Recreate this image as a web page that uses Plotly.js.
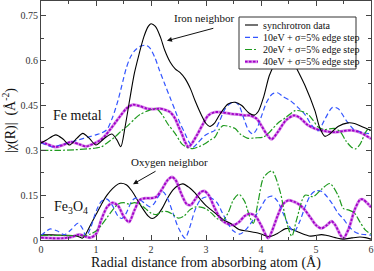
<!DOCTYPE html>
<html><head><meta charset="utf-8">
<script src="https://cdn.plot.ly/plotly-3.0.1.min.js"></script>
<style>html,body{margin:0;padding:0;background:#fff}</style>
</head><body><div id="c" style="width:374px;height:271px"></div>
<script>
// ---------- data ----------
const seriesNames = ["synchrotron data", "10eV + σ=5% edge step", "20eV + σ=5% edge step", "40eV + σ=5% edge step"];
const xTicks = [0,1,2,3,4,5,6];
const yTicks = [0,0.15,0.3,0.45,0.6,0.75];
const yTickText = ["0","0.15","0.3","0.45","0.6","0.75"];

// Fe metal
const feSynR = [0,0.1,0.27,0.4,0.52,0.65,0.76,0.88,1.0,1.15,1.29,1.38,1.45,1.53,1.61,1.7,1.78,1.87,1.95,2.0,2.08,2.17,2.25,2.35,2.44,2.53,2.62,2.72,2.8,2.92,3.0,3.07,3.15,3.25,3.4,3.53,3.65,3.78,3.88,3.95,4.05,4.15,4.25,4.35,4.45,4.55,4.62,4.8,4.98,5.07,5.16,5.25,5.4,5.58,5.7,5.85,6.0];
const feSyn  = [0.325,0.335,0.352,0.338,0.318,0.34,0.357,0.34,0.318,0.34,0.355,0.335,0.312,0.38,0.467,0.56,0.62,0.68,0.715,0.724,0.715,0.68,0.635,0.595,0.573,0.56,0.54,0.505,0.467,0.417,0.39,0.38,0.39,0.42,0.455,0.461,0.45,0.425,0.418,0.43,0.48,0.55,0.59,0.62,0.63,0.615,0.585,0.517,0.433,0.375,0.347,0.355,0.38,0.392,0.39,0.378,0.367];

const fe10R = [0,0.1,0.22,0.35,0.55,0.7,0.85,1.0,1.1,1.2,1.3,1.4,1.5,1.55,1.62,1.7,1.8,1.9,1.97,2.07,2.15,2.25,2.35,2.44,2.53,2.62,2.7,2.77,2.85,2.98,3.08,3.16,3.25,3.35,3.45,3.53,3.6,3.7,3.78,3.85,3.92,4.0,4.1,4.2,4.3,4.4,4.53,4.67,4.8,4.9,5.0,5.05,5.15,5.3,5.4,5.55,5.7,5.85,6.0];
const fe10  = [0.325,0.318,0.311,0.318,0.328,0.336,0.344,0.352,0.358,0.37,0.41,0.467,0.54,0.575,0.61,0.633,0.648,0.652,0.645,0.611,0.57,0.522,0.475,0.433,0.39,0.356,0.325,0.311,0.325,0.35,0.36,0.367,0.4,0.44,0.458,0.461,0.45,0.4,0.365,0.355,0.37,0.41,0.46,0.488,0.493,0.48,0.467,0.444,0.42,0.39,0.368,0.366,0.4,0.444,0.44,0.4,0.368,0.36,0.355];

const fe20R = [0,0.3,0.6,0.85,1.0,1.1,1.2,1.34,1.46,1.58,1.7,1.8,1.95,2.1,2.2,2.3,2.44,2.56,2.65,2.76,2.88,2.98,3.08,3.16,3.24,3.31,3.42,3.53,3.62,3.75,3.9,4.05,4.15,4.3,4.45,4.62,4.75,4.86,4.95,5.04,5.15,5.25,5.35,5.45,5.55,5.65,5.72,5.8,5.9,5.95,6.0];
const fe20  = [0.3,0.3,0.302,0.305,0.308,0.312,0.325,0.344,0.365,0.383,0.405,0.42,0.433,0.439,0.42,0.39,0.356,0.322,0.31,0.306,0.313,0.322,0.335,0.344,0.37,0.383,0.38,0.373,0.355,0.341,0.342,0.345,0.36,0.39,0.41,0.433,0.43,0.42,0.4,0.378,0.37,0.372,0.373,0.36,0.33,0.31,0.305,0.32,0.36,0.372,0.36];

const fe40R = [0,0.1,0.27,0.4,0.55,0.7,0.82,0.95,1.07,1.17,1.27,1.36,1.45,1.55,1.67,1.8,1.92,2.05,2.16,2.25,2.35,2.44,2.5,2.56,2.62,2.68,2.75,2.85,2.95,3.04,3.16,3.3,3.47,3.6,3.71,3.8,3.92,4.0,4.1,4.19,4.3,4.45,4.6,4.7,4.85,4.98,5.15,5.35,5.5,5.65,5.8,6.0];
const fe40  = [0.328,0.322,0.311,0.318,0.328,0.32,0.313,0.322,0.333,0.35,0.373,0.395,0.417,0.44,0.453,0.448,0.44,0.438,0.44,0.436,0.428,0.406,0.38,0.356,0.328,0.311,0.325,0.356,0.39,0.417,0.428,0.427,0.422,0.42,0.417,0.417,0.406,0.385,0.355,0.337,0.36,0.4,0.417,0.41,0.385,0.373,0.365,0.361,0.365,0.367,0.36,0.339];

// Fe3O4
const oxSynR = [0,0.2,0.4,0.6,0.7,0.75,0.8,0.9,1.0,1.1,1.2,1.3,1.4,1.45,1.55,1.65,1.75,1.85,1.95,2.02,2.1,2.2,2.3,2.4,2.5,2.58,2.7,2.8,2.9,3.0,3.1,3.2,3.3,3.45,3.6,3.75,3.9,4.0,4.15,4.3,4.45,4.55,4.7,4.9,5.1,5.2,5.35,5.5,5.65,5.8,5.9,6.0];
const oxSyn  = [0.017,0.017,0.016,0.015,0.01,0.006,0.015,0.05,0.085,0.12,0.15,0.172,0.187,0.19,0.185,0.165,0.135,0.105,0.08,0.072,0.08,0.105,0.14,0.168,0.183,0.188,0.175,0.158,0.135,0.115,0.1,0.085,0.07,0.055,0.035,0.03,0.025,0.02,0.011,0.022,0.038,0.037,0.025,0.013,0.018,0.015,0.008,0.003,0.007,0.01,0.008,0.003];

const ox10R = [0,0.1,0.17,0.3,0.42,0.55,0.67,0.75,0.82,0.9,1.0,1.1,1.2,1.3,1.4,1.47,1.55,1.65,1.72,1.8,1.9,1.98,2.05,2.15,2.22,2.3,2.4,2.5,2.62,2.7,2.8,2.9,3.0,3.1,3.2,3.3,3.4,3.5,3.62,3.75,3.9,4.0,4.1,4.2,4.3,4.4,4.5,4.6,4.7,4.8,4.9,5.0,5.1,5.2,5.3,5.4,5.5,5.6,5.7,5.8,5.9,6.0];
const ox10  = [0.015,0.03,0.037,0.03,0.018,0.035,0.056,0.04,0.012,0.04,0.095,0.13,0.137,0.115,0.08,0.072,0.09,0.13,0.14,0.135,0.12,0.111,0.12,0.15,0.161,0.14,0.09,0.04,0.006,0.04,0.1,0.135,0.144,0.14,0.125,0.09,0.055,0.03,0.02,0.04,0.08,0.11,0.14,0.147,0.13,0.09,0.05,0.028,0.06,0.11,0.15,0.165,0.163,0.145,0.12,0.09,0.07,0.045,0.028,0.02,0.018,0.016];

const ox20R = [0,0.4,0.8,0.9,1.0,1.1,1.2,1.3,1.4,1.5,1.6,1.7,1.8,1.9,2.0,2.1,2.2,2.3,2.4,2.5,2.6,2.7,2.8,2.9,3.0,3.1,3.2,3.3,3.4,3.5,3.6,3.7,3.8,3.86,3.95,4.05,4.2,4.35,4.45,4.56,4.65,4.8,4.95,5.1,5.25,5.4,5.5,5.6,5.7,5.8,5.9,6.0];
const ox20  = [0.015,0.015,0.015,0.02,0.03,0.05,0.075,0.1,0.12,0.125,0.12,0.125,0.12,0.105,0.09,0.085,0.095,0.095,0.085,0.073,0.08,0.1,0.11,0.11,0.104,0.09,0.072,0.065,0.09,0.135,0.153,0.13,0.075,0.056,0.13,0.21,0.231,0.16,0.07,0.013,0.07,0.15,0.145,0.17,0.189,0.15,0.105,0.1,0.09,0.06,0.033,0.02];

const ox40R = [0,0.2,0.4,0.55,0.7,0.8,0.9,1.0,1.1,1.2,1.3,1.4,1.5,1.6,1.7,1.8,1.9,2.0,2.1,2.2,2.3,2.38,2.45,2.55,2.65,2.72,2.8,2.9,2.97,3.05,3.15,3.25,3.35,3.5,3.6,3.7,3.8,3.9,4.0,4.13,4.2,4.3,4.4,4.5,4.6,4.7,4.8,4.9,5.0,5.1,5.2,5.28,5.35,5.45,5.5,5.6,5.7,5.8,5.85,5.95,6.0];
const ox40  = [0.008,0.006,0.006,0.01,0.018,0.012,0.008,0.02,0.07,0.11,0.125,0.115,0.08,0.06,0.1,0.135,0.14,0.14,0.145,0.17,0.2,0.211,0.2,0.155,0.12,0.117,0.135,0.16,0.164,0.15,0.11,0.075,0.058,0.05,0.06,0.08,0.088,0.08,0.05,0.006,0.03,0.08,0.12,0.133,0.128,0.118,0.1,0.075,0.05,0.039,0.05,0.063,0.05,0.015,0.006,0.04,0.1,0.135,0.136,0.12,0.11];

// ---------- styles ----------
const SERIF = "Liberation Serif";
const C_BLACK = "#000000", C_BLUE = "#3355ff", C_GREEN = "#1f9a1f", C_MAG = "#a000c8", C_MAGL = "#d88ae9";
const styles = [
  {color:C_BLACK, width:1.1, dash:"solid"},
  {color:C_BLUE, width:1.2, dash:"5px,3px"},
  {color:C_GREEN, width:1.2, dash:"7px,2px,2px,2px"},
  {color:C_MAG, width:1.8, dash:"2.5px,1.5px"}
];
function tr(x, y, i){
  return {x:x, y:y, type:"scatter", mode:"lines", name:seriesNames[i], showlegend:false,
          line:{color:styles[i].color, width:styles[i].width, dash:styles[i].dash, shape:"spline", smoothing:0.8}};
}
function halo(x, y){
  return {x:x, y:y, type:"scatter", mode:"lines", showlegend:false, hoverinfo:"skip",
          line:{color:C_MAGL, width:3, shape:"spline", smoothing:0.8}};
}
const data = [
  halo(fe40R, fe40), halo(ox40R, ox40),
  tr(oxSynR, oxSyn, 0), tr(ox10R, ox10, 1), tr(ox20R, ox20, 2), tr(ox40R, ox40, 3),
  tr(fe10R, fe10, 1), tr(fe20R, fe20, 2), tr(fe40R, fe40, 3), tr(feSynR, feSyn, 0)
];

// plot area in pixels
const L = 41, R = 371, T = 1, B = 240;
const px2p = (px) => (px - L) / (R - L);
const py2p = (py) => (B - py) / (B - T);

// legend (drawn as shapes + annotations)
const shapes = [{type:"rect", xref:"paper", yref:"paper", x0:px2p(239), x1:px2p(356), y0:py2p(69), y1:py2p(17),
  fillcolor:"#ffffff", line:{color:"#333", width:1}, layer:"above"}];
const annotations = [];
const rowsY = [25, 37.3, 49.5, 61.7];
rowsY.forEach((ry, i) => {
  if (i === 3) shapes.push({type:"line", xref:"paper", yref:"paper", x0:px2p(245), x1:px2p(258), y0:py2p(ry), y1:py2p(ry),
    line:{color:C_MAGL, width:3}, layer:"above"});
  shapes.push({type:"line", xref:"paper", yref:"paper", x0:px2p(245), x1:px2p(258), y0:py2p(ry), y1:py2p(ry),
    line:{color:styles[i].color, width:styles[i].width, dash:styles[i].dash}, layer:"above"});
  annotations.push({xref:"paper", yref:"paper", x:px2p(261), y:py2p(ry), xanchor:"left", yanchor:"middle",
    text:seriesNames[i], showarrow:false, font:{family:SERIF, size:10, color:"#111"}});
});

// labels and arrows
annotations.push(
  {x:2.964, y:0.742, xref:"x", yref:"y", text:"Iron neighbor", showarrow:false, font:{family:SERIF, size:11, color:"#111"}},
  {x:2.29, y:0.667, ax:3.16, ay:0.71, xref:"x", yref:"y", axref:"x", ayref:"y", text:"", showarrow:true,
    arrowhead:2, arrowsize:1, arrowwidth:1, arrowcolor:"#111"},
  {x:2.345, y:0.262, xref:"x", yref:"y", text:"Oxygen neighbor", showarrow:false, font:{family:SERIF, size:11, color:"#111"}},
  {x:1.673, y:0.187, ax:2.11, ay:0.233, xref:"x", yref:"y", axref:"x", ayref:"y", text:"", showarrow:true,
    arrowhead:2, arrowsize:1, arrowwidth:1, arrowcolor:"#111"},
  {x:0.664, y:0.417, xref:"x", yref:"y", text:"Fe metal", showarrow:false, font:{family:SERIF, size:14, color:"#111"}},
  {x:0.55, y:0.11, xref:"x", yref:"y", text:"Fe<sub>3</sub>O<sub>4</sub>", showarrow:false, font:{family:SERIF, size:14, color:"#111"}}
);

const axisCommon = {
  showgrid:false, zeroline:false, showline:true, linecolor:"#444", linewidth:1, mirror:"allticks",
  ticks:"inside", ticklen:5, tickcolor:"#444", tickwidth:1,
  tickfont:{family:SERIF, size:10, color:"#333"}
};
const layout = {
  width:374, height:271, margin:{l:L, r:374-R, t:T, b:271-B},
  paper_bgcolor:"#fff", plot_bgcolor:"#fff", showlegend:false,
  font:{family:SERIF},
  xaxis:Object.assign({}, axisCommon, {range:[0,6], tickvals:xTicks, ticktext:xTicks.map(String),
    minor:{dtick:0.5, tick0:0, ticks:"inside", ticklen:3, tickcolor:"#444"},
    title:{text:"Radial distance from absorbing atom (Å)", font:{family:SERIF, size:14, color:"#111"}, standoff:4}}),
  yaxis:Object.assign({}, axisCommon, {range:[0,0.8], tickvals:yTicks, ticktext:yTickText,
    minor:{dtick:0.075, tick0:0, ticks:"inside", ticklen:3, tickcolor:"#444"},
    title:{text:"|χ(R)|  (Å<sup>-2</sup>)", font:{family:SERIF, size:14, color:"#111"}, standoff:4}}),
  shapes:shapes, annotations:annotations
};
Plotly.newPlot("c", data, layout, {displayModeBar:false, staticPlot:true});
</script></body></html>
